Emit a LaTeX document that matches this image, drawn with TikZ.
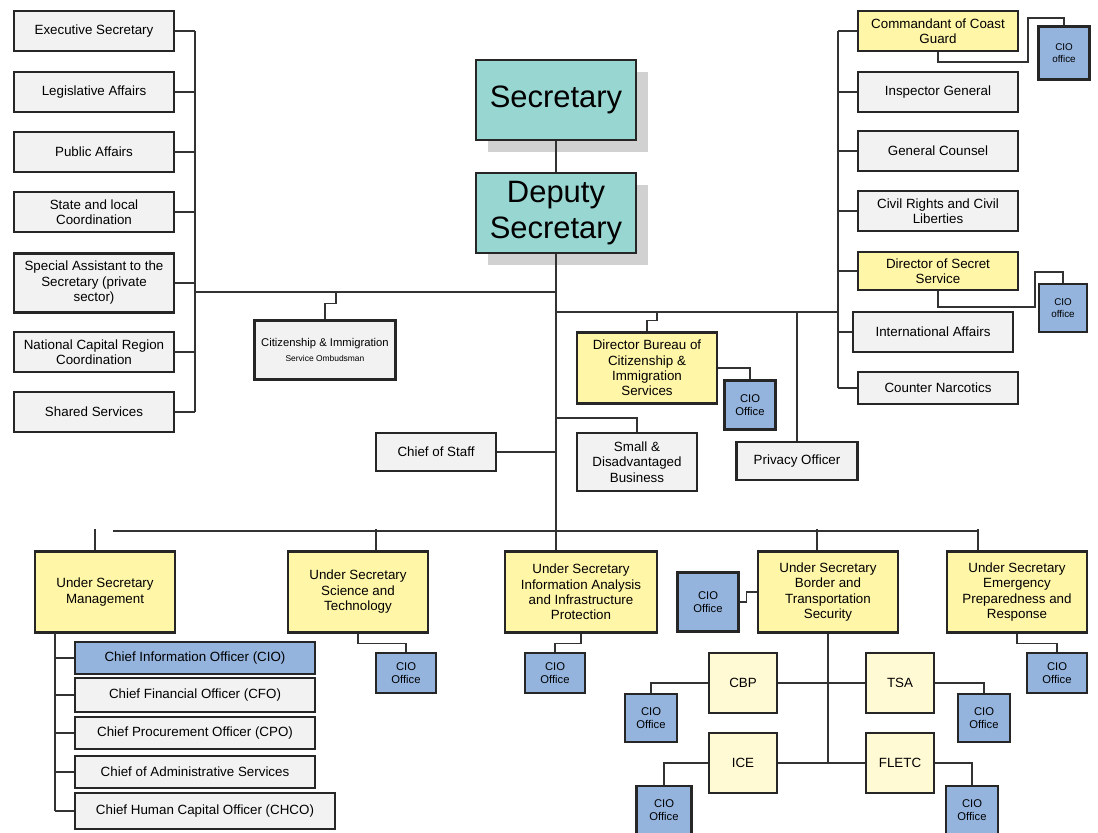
\documentclass[tikz,border=0pt]{standalone}
\usepackage{fontspec}
\setmainfont{Liberation Sans}
\usetikzlibrary{positioning,shadows}
\definecolor{OrgGray}{RGB}{242,242,242}
\definecolor{OrgYellow}{RGB}{255,246,168}
\definecolor{OrgPale}{RGB}{255,249,212}
\definecolor{OrgTeal}{RGB}{152,214,210}
\definecolor{OrgBlue}{RGB}{148,180,222}
\definecolor{OrgLine}{RGB}{50,50,50}
\tikzset{
  gbox/.style={draw=black!85,fill=OrgGray,line width=1.6pt,minimum width=4cm,minimum height=1cm,inner sep=1pt,align=center,font=\fontsize{9.5}{11}\selectfont},
  ybox/.style={gbox,fill=OrgYellow},
  usbox/.style={ybox,minimum width=3.5cm,minimum height=2.025cm},
  msbox/.style={gbox,minimum width=6cm,minimum height=0.8cm},
  pbox/.style={gbox,fill=OrgPale,minimum width=1.7cm,minimum height=1.5cm},
  cbox/.style={gbox,fill=OrgBlue,minimum width=1.3cm,minimum height=1.2cm,font=\fontsize{8}{9}\selectfont},
  tbox/.style={gbox,fill=OrgTeal,minimum height=2cm,inner sep=0pt,font=\fontsize{22}{26}\selectfont,drop shadow={shadow xshift=0.3cm,shadow yshift=-0.3cm,fill=black!18,opacity=1}},
  ln/.style={draw=OrgLine,line width=0.9pt},
}
\begin{document}
\begin{tikzpicture}[x=0.025cm,y=-0.025cm]
  \useasboundingbox (0,0) rectangle (1098,833);
  % top
  \node[tbox] (sec) at (556,100) {Secretary};
  \node[tbox] (dep) at (556,213) {Deputy\\Secretary};
  % left column
  \node[gbox] (exec)   at (94,31)  {Executive Secretary};
  \node[gbox] (leg)    at (94,92)  {Legislative Affairs};
  \node[gbox] (pub)    at (94,152) {Public Affairs};
  \node[gbox] (state)  at (94,212) {State and local\\Coordination};
  \node[gbox,minimum height=1.475cm] (spec) at (94,283) {Special Assistant to the\\Secretary (private\\sector)};
  \node[gbox] (ncr)    at (94,352) {National Capital Region\\Coordination};
  \node[gbox] (shared) at (94,412) {Shared Services};
  % right column
  \node[ybox] (coast) at (938,31)  {Commandant of Coast\\Guard};
  \node[gbox] (insp)  at (938,92)  {Inspector General};
  \node[gbox] (gc)    at (938,151) {General Counsel};
  \node[gbox] (civil) at (938,211) {Civil Rights and Civil\\Liberties};
  \node[ybox,minimum height=0.95cm] (ss) at (938,271) {Director of Secret\\Service};
  \node[gbox] (intl)  at (933,332) {International Affairs};
  \node[gbox,minimum height=0.8cm] (narc) at (938,388) {Counter Narcotics};
  \node[cbox,minimum width=1.275cm,minimum height=1.325cm,font=\fontsize{7}{8}\selectfont] (cio1) at (1064,53) {CIO\\office};
  \node[cbox,minimum width=1.2cm,minimum height=1.2cm,font=\fontsize{7}{8}\selectfont] (cio2) at (1063,308) {CIO\\office};
  % middle
  \node[gbox,minimum width=3.525cm,minimum height=1.475cm] (omb) at (325,350) {{\fontsize{8}{9}\selectfont Citizenship \& Immigration}\\{\fontsize{6}{7}\selectfont Service Ombudsman}};
  \node[ybox,minimum width=3.5cm,minimum height=1.775cm] (bcis) at (647,368) {Director Bureau of\\Citizenship \&\\Immigration\\Services};
  \node[cbox,minimum width=1.275cm,minimum height=1.225cm] (cio3) at (750,405) {CIO\\Office};
  \node[gbox,minimum width=3.025cm,minimum height=0.95cm] (priv) at (797,461) {Privacy Officer};
  \node[gbox,minimum width=3cm,minimum height=1.45cm] (sdb) at (637,462) {Small \&\\Disadvantaged\\Business};
  \node[gbox,minimum width=3cm,minimum height=0.95cm] (cos) at (436,452) {Chief of Staff};
  % under secretaries
  \node[usbox] (usm)  at (105,592)  {Under Secretary\\Management};
  \node[usbox] (usst) at (358,592)  {Under Secretary\\Science and\\Technology};
  \node[usbox,minimum width=3.8cm] (usia) at (581,592) {Under Secretary\\Information Analysis\\and Infrastructure\\Protection};
  \node[usbox] (usbt) at (828,592)  {Under Secretary\\Border and\\Transportation\\Security};
  \node[usbox] (usep) at (1017,592) {Under Secretary\\Emergency\\Preparedness and\\Response};
  \node[cbox,minimum width=1.5cm,minimum height=1cm] (cio4) at (406,673)  {CIO\\Office};
  \node[cbox,minimum width=1.5cm,minimum height=1cm] (cio5) at (555,673)  {CIO\\Office};
  \node[cbox,minimum width=1.525cm,minimum height=1.475cm] (cio6) at (708,602) {CIO\\Office};
  \node[cbox,minimum width=1.5cm,minimum height=1cm] (cio7) at (1057,673) {CIO\\Office};
  % border and transportation
  \node[pbox] (cbp)   at (743,683) {CBP};
  \node[pbox] (tsa)   at (900,683) {TSA};
  \node[pbox] (ice)   at (743,763) {ICE};
  \node[pbox] (fletc) at (900,763) {FLETC};
  \node[cbox] (cio8)  at (651,718) {CIO\\Office};
  \node[cbox] (cio9)  at (984,718) {CIO\\Office};
  \node[cbox,minimum width=1.375cm] (cio10) at (664,810) {CIO\\Office};
  \node[cbox] (cio11) at (972,810) {CIO\\Office};
  % management
  \node[msbox,fill=OrgBlue] (mcio) at (195,658) {Chief Information Officer (CIO)};
  \node[msbox,minimum height=0.85cm] (mcfo) at (195,695) {Chief Financial Officer (CFO)};
  \node[msbox] (mcpo) at (195,733) {Chief Procurement Officer (CPO)};
  \node[msbox] (madm) at (195,772) {Chief of Administrative Services};
  \node[msbox,minimum width=6.5cm,minimum height=0.9cm] (mhc) at (205,811) {Chief Human Capital Officer (CHCO)};
  % connectors
  \coordinate (ltop) at (195,31); \coordinate (lbot) at (195,412); \coordinate (lmid) at (195,292);
  \coordinate (rtop) at (838,31); \coordinate (rbot) at (838,388); \coordinate (rmid) at (838,312);
  \coordinate (bl) at (113,531); \coordinate (br) at (978,531); \coordinate (mbus) at (55,633);
  \draw[ln] (sec) -- (dep);
  \draw[ln] (dep.south) -- (usia.north -| dep.south);
  \draw[ln] (ltop) -- (lbot); \draw[ln] (lmid) -- (lmid -| dep.south);
  \foreach \n in {exec,leg,pub,state,spec,ncr,shared} \draw[ln] (\n.east) -- (\n.east -| ltop);
  \draw[ln] (rtop) -- (rbot); \draw[ln] (rmid) -- (rmid -| dep.south);
  \foreach \n in {coast,insp,gc,civil,ss,intl,narc} \draw[ln] (\n.west) -- (\n.west -| rtop);
  \draw[ln] (coast.south) -- ++(0,10) -| (1028,18) -| (cio1.north);
  \draw[ln] (ss.south) -- ++(0,16) -| (1035,272) -| (cio2.north);
  \draw[ln] (omb.north) -- ++(0,-16) -| (336,292);
  \draw[ln] (bcis.north) -- ++(0,-11) -| (657,312);
  \draw[ln] (bcis.east) -| (cio3.north);
  \draw[ln] (priv.north) -- (priv.north |- rmid);
  \draw[ln] (sdb.north) |- (556,418);
  \draw[ln] (cos.east) -- (cos.east -| dep.south);
  \draw[ln] (bl) -- (br);
  \draw[ln] ([xshift=-0.25cm]usm.north) -- ++(0,-21);
  \draw[ln] ([xshift=0.45cm]usst.north) -- ++(0,-21);
  \draw[ln] ([xshift=-0.275cm]usbt.north) -- ++(0,-21);
  \draw[ln] ([xshift=-0.975cm]usep.north) -- ++(0,-21);
  \draw[ln] (usst.south) -- ++(0,10) -| (cio4.north);
  \draw[ln] (usia.south) -- ++(0,10) -| (cio5.north);
  \draw[ln] (usbt.west) -- ++(-10,0) |- (cio6.east);
  \draw[ln] (usep.south) -- ++(0,10) -| (cio7.north);
  \draw[ln] (usbt.south) -- (usbt.south |- fletc);
  \draw[ln] (cbp) -- (tsa); \draw[ln] (ice) -- (fletc);
  \draw[ln] (cbp.west) -| (cio8.north); \draw[ln] (tsa.east) -| (cio9.north);
  \draw[ln] (ice.west) -| (cio10.north); \draw[ln] (fletc.east) -| (cio11.north);
  \draw[ln] (mbus) -- (mbus |- mhc);
  \foreach \n in {mcio,mcfo,mcpo,madm,mhc} \draw[ln] (\n.west) -- (\n.west -| mbus);
\end{tikzpicture}
\end{document}
